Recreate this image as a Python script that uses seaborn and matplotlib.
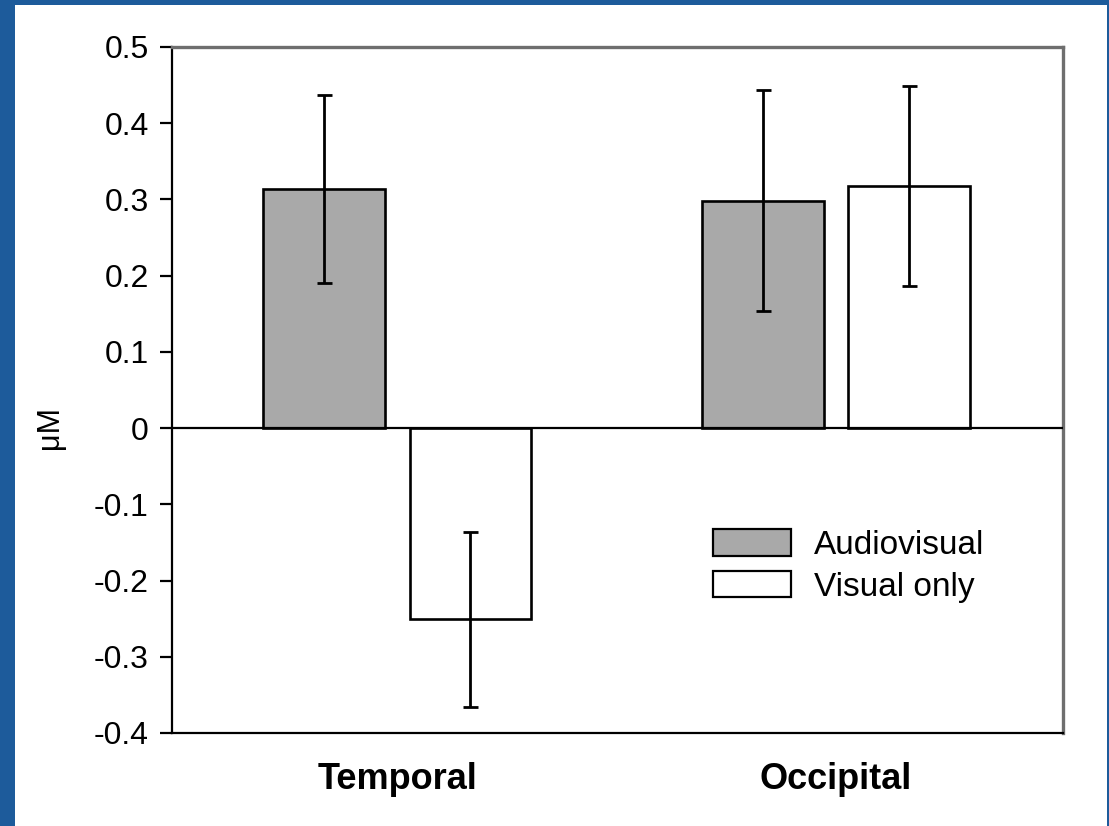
import numpy as np
import pandas as pd
import matplotlib
matplotlib.use("Agg")
import matplotlib.pyplot as plt
import seaborn as sns
from matplotlib.patches import Rectangle, Patch

# ---- data ----
regions = ["Temporal", "Occipital"]
conditions = ["Audiovisual", "Visual only"]
audiovisual_mean = [0.314, 0.298]
visual_mean = [-0.251, 0.318]
audiovisual_err = [0.123, 0.145]
visual_err = [0.115, 0.131]
y_ticks = [-0.4, -0.3, -0.2, -0.1, 0, 0.1, 0.2, 0.3, 0.4, 0.5]
y_tick_labels = ["-0.4", "-0.3", "-0.2", "-0.1", "0", "0.1", "0.2", "0.3", "0.4", "0.5"]

df = pd.DataFrame({
    "region": regions * 2,
    "condition": [conditions[0]] * 2 + [conditions[1]] * 2,
    "value": audiovisual_mean + visual_mean,
    "err": audiovisual_err + visual_err,
})

sns.set_style("white")
plt.rcParams["font.family"] = ["Liberation Sans", "DejaVu Sans"]
plt.rcParams["text.color"] = "black"
plt.rcParams["axes.labelcolor"] = "black"
plt.rcParams["xtick.color"] = "black"
plt.rcParams["ytick.color"] = "black"

fig = plt.figure(figsize=(11.09, 8.26), dpi=100)
fig.patch.set_facecolor("#1d5b9b")
# white slide panel (behind the axes)
fig.patches.append(Rectangle((15 / 1109, 0), (1107 - 15) / 1109, 1 - 5 / 826,
                             transform=fig.transFigure, facecolor="white",
                             edgecolor="none", zorder=-10))

ax = fig.add_axes([172 / 1109, 1 - 733 / 826, (1063 - 172) / 1109, (733 - 47) / 826])
ax.set_facecolor("white")

palette = {"Audiovisual": "#a9a9a9", "Visual only": "white"}
sns.barplot(data=df, x="region", y="value", hue="condition", order=regions,
            hue_order=conditions, palette=palette, edgecolor="black",
            linewidth=1.9, width=0.666, gap=0.166, errorbar=None, ax=ax,
            legend=False)

# error bars at the bar centres
for cont, cond in zip(ax.containers, conditions):
    sub = df[df["condition"] == cond].set_index("region").loc[regions]
    xs = [b.get_x() + b.get_width() / 2 for b in cont]
    ax.errorbar(xs, sub["value"], yerr=sub["err"], fmt="none", ecolor="black",
                elinewidth=2.0, capsize=5.4, capthick=2.0, zorder=5)

ax.axhline(0, color="black", lw=1.6, zorder=4)
ax.set_xlim(-0.514, 1.518)
ax.set_ylim(-0.4, 0.5)
ax.set_yticks(y_ticks)
ax.set_yticklabels(y_tick_labels)
ax.tick_params(axis="y", direction="out", length=8.6, width=1.6, pad=8,
               labelsize=23, color="black", labelcolor="black", left=True)
ax.tick_params(axis="x", length=0, pad=21, labelcolor="black")
for lab in ax.get_xticklabels():
    lab.set_fontweight("bold")
    lab.set_fontsize(26)
ax.set_xlabel("")
ax.set_ylabel("μM", fontsize=22, color="black")
ax.yaxis.set_label_coords(-0.12, 0.445)

for side in ["left", "bottom"]:
    ax.spines[side].set_color("black")
    ax.spines[side].set_linewidth(1.6)
for side in ["top", "right"]:
    ax.spines[side].set_color("#6e6e6e")
    ax.spines[side].set_linewidth(2.4)

handles = [Patch(facecolor=palette[c], edgecolor="black", linewidth=1.6) for c in conditions]
ax.legend(handles, conditions, loc="upper left",
          bbox_to_anchor=((713 - 172) / 891, (733 - 529) / 686),
          frameon=False, fontsize=24, handlelength=2.35, handleheight=0.85,
          handletextpad=0.68, labelspacing=0.3, borderpad=0, borderaxespad=0)

fig.savefig("out.png", dpi=100, facecolor=fig.get_facecolor())
